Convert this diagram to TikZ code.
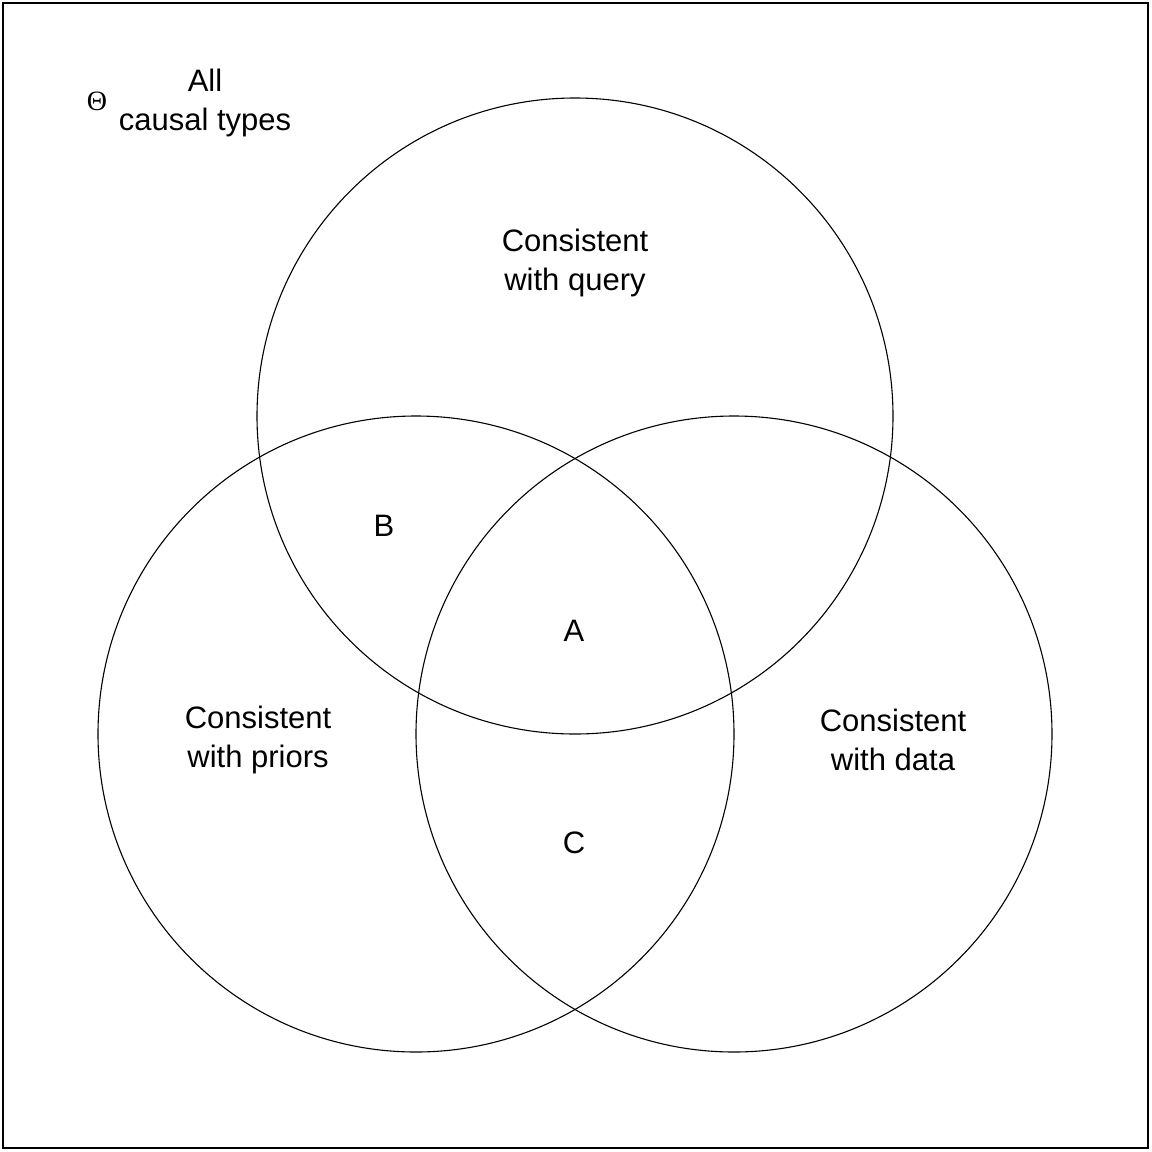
\documentclass[tikz,border=0pt]{standalone}
\usepackage{fontspec}
\setmainfont{Liberation Sans}
\newfontfamily\serifgr{Liberation Serif}
\begin{document}
\begin{tikzpicture}[x=1pt,y=-1pt,
  setcircle/.style={draw=black,line width=1.1pt},
  lbl/.style={font=\fontsize{31}{39}\selectfont,align=center,inner sep=0pt}]
\useasboundingbox (0,0) rectangle (1152,1152);
\draw[line width=2pt] (3,3) rectangle (1148,1148);
\node[setcircle,circle,minimum size=636pt,inner sep=0pt] (query) at (575,416) {};
\node[setcircle,circle,minimum size=636pt,inner sep=0pt] (priors) at (416,734) {};
\node[setcircle,circle,minimum size=636pt,inner sep=0pt] (data) at (734,734) {};
\node[lbl] (tq) at (575,263) {Consistent\\with query};
\node[lbl] (tp) at (258,740) {Consistent\\with priors};
\node[lbl] (td) at (893,740) {Consistent\\with data};
\node[lbl] (la) at (574,631) {A};
\node[lbl] (lb) at (384,526) {B};
\node[lbl] (lc) at (574,843) {C};
\node[lbl] (all) at (205,103) {All\\causal types};
\node[inner sep=0pt,font=\serifgr\fontsize{28}{32}\selectfont] (theta) at (97,101) {Θ};
\end{tikzpicture}
\end{document}
